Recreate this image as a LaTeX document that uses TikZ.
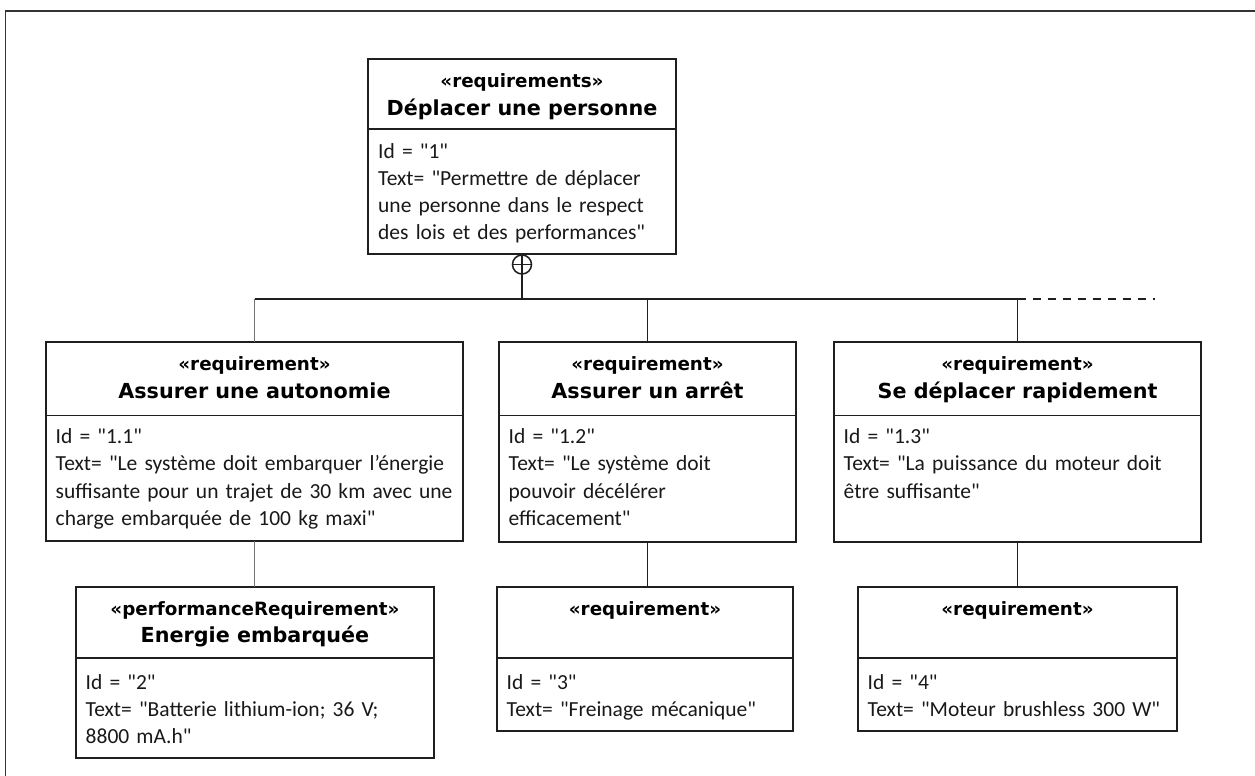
\documentclass[tikz,border=0pt]{standalone}
\usepackage{fontspec}
\setmainfont{Carlito}
\newfontfamily\hdrfont{DejaVu Sans}
\newfontfamily\bodyfont{Carlito}
\newcommand\dq{\XeTeXglyph\XeTeXcharglyph"22\relax}
\tikzset{
  frame/.style={draw=black!80, line width=1.8pt},
  reqbox/.style={draw=black!88, line width=1.8pt, fill=white, inner sep=0pt, outer sep=0pt, anchor=north west},
  sepline/.style={draw=black!88, line width=1.8pt},
  stereo/.style={font=\hdrfont\bfseries\fontsize{18.3}{22}\selectfont, anchor=base, inner sep=0pt},
  rname/.style={font=\hdrfont\bfseries\fontsize{20.7}{24}\selectfont, anchor=base, inner sep=0pt},
  bodytxt/.style={font=\bodyfont\fontsize{21.5}{27.3}\selectfont, anchor=base west, align=left, text width=480pt, inner sep=0pt, text=black!90},
  conn/.style={draw=black!88, line width=1.6pt},
  connlight/.style={draw=black!55, line width=1.6pt},
  dashconn/.style={draw=black!88, line width=1.6pt, dash pattern=on 8pt off 7pt},
  oplus/.style={circle, draw=black!88, line width=1.5pt, minimum size=19pt, inner sep=0pt, outer sep=0pt,
    path picture={\draw[black!88, line width=1.5pt] (path picture bounding box.north) -- (path picture bounding box.south)
      (path picture bounding box.west) -- (path picture bounding box.east);}},
}
\begin{document}
\begin{tikzpicture}[x=1pt,y=-1pt]
\useasboundingbox (0,0) rectangle (1255,776);
\fill[white] (0,0) rectangle (1255,776);
\clip (0,0) rectangle (1255,776);
\draw[frame] (5.5,11) rectangle (1290,800);

% top requirement
\node[reqbox, minimum width=308pt, minimum height=195pt] (r1) at (368,59) {};
\draw[sepline] ([yshift=-70pt]r1.north west) -- ([yshift=-70pt]r1.north east);
\node[stereo] (r1s) at ([yshift=-28pt]r1.north) {«requirements»};
\node[rname] (r1n) at ([yshift=-56pt]r1.north) {Déplacer une personne};
\node[bodytxt] (r1b) at ([xshift=10pt,yshift=-99pt]r1.north west)
  {Id = \dq1\dq\\Text= \dq Permettre de déplacer\\une personne dans le respect\\des lois et des performances\dq};

% row 1
\node[reqbox, minimum width=417pt, minimum height=199pt] (b11) at (46,342) {};
\draw[sepline] ([yshift=-73.5pt]b11.north west) -- ([yshift=-73.5pt]b11.north east);
\node[stereo] (b11s) at ([yshift=-28.5pt]b11.north) {«requirement»};
\node[rname] (b11n) at ([yshift=-56pt]b11.north) {Assurer une autonomie};
\node[bodytxt] (b11b) at ([xshift=9.5pt,yshift=-101.5pt]b11.north west)
  {Id = \dq1.1\dq\\Text= \dq Le système doit embarquer l’énergie\\suffisante pour un trajet de 30 km avec une\\charge embarquée de 100 kg maxi\dq};

\node[reqbox, minimum width=297pt, minimum height=200pt] (b12) at (499,342) {};
\draw[sepline] ([yshift=-73.5pt]b12.north west) -- ([yshift=-73.5pt]b12.north east);
\node[stereo] (b12s) at ([yshift=-28.5pt]b12.north) {«requirement»};
\node[rname] (b12n) at ([yshift=-56pt]b12.north) {Assurer un arrêt};
\node[bodytxt] (b12b) at ([xshift=9.5pt,yshift=-101.5pt]b12.north west)
  {Id = \dq1.2\dq\\Text= \dq Le système doit\\pouvoir décélérer\\efficacement\dq};

\node[reqbox, minimum width=367pt, minimum height=200pt] (b13) at (834,342) {};
\draw[sepline] ([yshift=-73.5pt]b13.north west) -- ([yshift=-73.5pt]b13.north east);
\node[stereo] (b13s) at ([yshift=-28.5pt]b13.north) {«requirement»};
\node[rname] (b13n) at ([yshift=-56pt]b13.north) {Se déplacer rapidement};
\node[bodytxt] (b13b) at ([xshift=9.5pt,yshift=-101.5pt]b13.north west)
  {Id = \dq1.3\dq\\Text= \dq La puissance du moteur doit\\être suffisante\dq};

% row 2
\node[reqbox, minimum width=358pt, minimum height=171pt] (b2) at (76,587) {};
\draw[sepline] ([yshift=-71pt]b2.north west) -- ([yshift=-71pt]b2.north east);
\node[stereo] (b2s) at ([yshift=-28pt]b2.north) {«performanceRequirement»};
\node[rname] (b2n) at ([yshift=-55pt]b2.north) {Energie embarquée};
\node[bodytxt] (b2b) at ([xshift=9.5pt,yshift=-102pt]b2.north west)
  {Id = \dq2\dq\\Text= \dq Batterie lithium-ion; 36 V;\\8800 mA.h\dq};

\node[reqbox, minimum width=296pt, minimum height=144pt] (b3) at (497,587) {};
\draw[sepline] ([yshift=-71pt]b3.north west) -- ([yshift=-71pt]b3.north east);
\node[stereo] (b3s) at ([yshift=-28pt]b3.north) {«requirement»};
\node[bodytxt] (b3b) at ([xshift=9.5pt,yshift=-102pt]b3.north west)
  {Id = \dq3\dq\\Text= \dq Freinage mécanique\dq};

\node[reqbox, minimum width=319pt, minimum height=144pt] (b4) at (858,587) {};
\draw[sepline] ([yshift=-71pt]b4.north west) -- ([yshift=-71pt]b4.north east);
\node[stereo] (b4s) at ([yshift=-28pt]b4.north) {«requirement»};
\node[bodytxt] (b4b) at ([xshift=9.5pt,yshift=-102pt]b4.north west)
  {Id = \dq4\dq\\Text= \dq Moteur brushless 300 W\dq};

% containment connectors
\node[oplus] (op) at (522,264.5) {};
\coordinate (bus) at (522,299);
\coordinate (dashend) at (1155,299);
\draw[conn] (op.south) -- (bus);
\draw[conn] (b11.north |- bus) -- (b13.north |- bus);
\draw[dashconn] (b13.north |- bus) -- (dashend);
\draw[connlight] (b11.north |- bus) -- (b11.north);
\draw[conn] (b12.north |- bus) -- (b12.north);
\draw[conn] (b13.north |- bus) -- (b13.north);
\draw[connlight] (b11.south) -- (b11.south |- b2.north);
\draw[conn] (b12.south) -- (b12.south |- b3.north);
\draw[conn] (b13.south) -- (b13.south |- b4.north);
\end{tikzpicture}
\end{document}
